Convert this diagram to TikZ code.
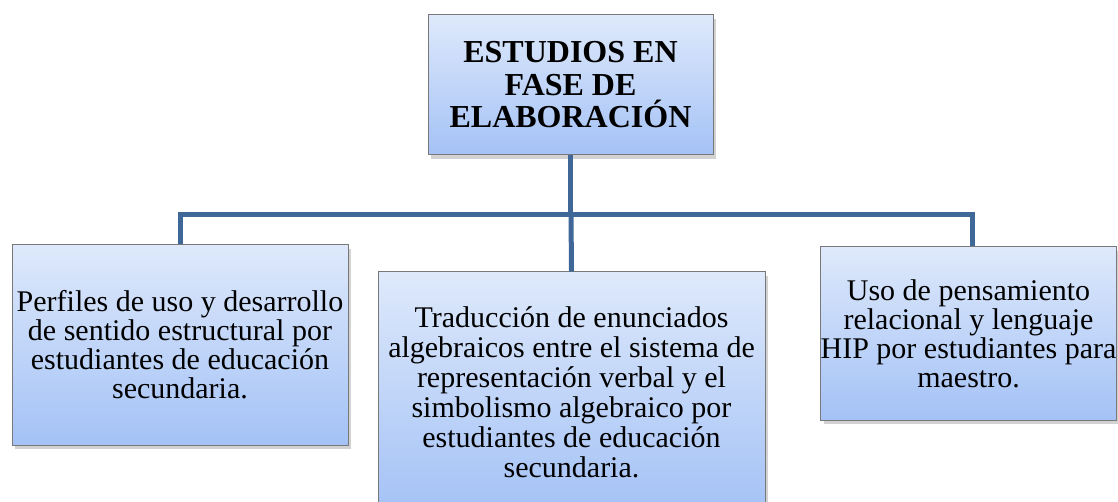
\documentclass[tikz,border=0pt]{standalone}
\usepackage{fontspec}
\setmainfont{Liberation Serif}
\usepackage{xcolor}
\usepackage{tikz}
\usetikzlibrary{positioning, calc, shadows}
\definecolor{boxtop}{RGB}{222,233,251}
\definecolor{boxbottom}{RGB}{164,194,246}
\definecolor{boxedge}{RGB}{120,120,120}
\definecolor{linkblue}{RGB}{63,103,151}

\begin{document}
\begin{tikzpicture}[x=1pt, y=-1pt,
  studybox/.style={rectangle, draw=boxedge, line width=1pt, top color=boxtop, bottom color=boxbottom,
    drop shadow={shadow xshift=3pt, shadow yshift=-4pt, fill=black!35}, align=center, inner sep=0pt,
    font=\fontsize{30}{29}\selectfont},
  link/.style={draw=linkblue, line width=5pt}]
\useasboundingbox (0,0) rectangle (1118,502);

% Boxes
\node[studybox, minimum width=285pt, minimum height=140pt, font=\fontsize{32}{32.5}\selectfont\bfseries]
  (fase) at (570.5,85) {ESTUDIOS EN\\FASE DE\\ELABORACIÓN};
\node[studybox, minimum width=336pt, minimum height=200pt] (perfiles) at (180,345)
  {Perfiles de uso y desarrollo\\de sentido estructural por\\estudiantes de educación\\secundaria.};
\node[studybox, minimum width=387pt, minimum height=240pt, font=\fontsize{30}{30}\selectfont]
  (traduccion) at (571.5,392)
  {Traducción de enunciados\\algebraicos entre el sistema de\\representación verbal y el\\simbolismo algebraico por\\estudiantes de educación\\secundaria.};
\node[studybox, minimum width=293pt, minimum height=173pt] (pensamiento) at (968.5,333.5)
  {Uso de pensamiento\\relacional y lenguaje\\HIP por estudiantes para\\maestro.};

% Connectors
\coordinate (bus) at (571,215);
\draw[link] (fase.south) -- (fase.south |- bus);
\draw[link] (perfiles.north) |- (bus) -| ($(pensamiento.north)+(3.5,0)$);
\draw[link] (bus) -- (traduccion.north);
\end{tikzpicture}
\end{document}
